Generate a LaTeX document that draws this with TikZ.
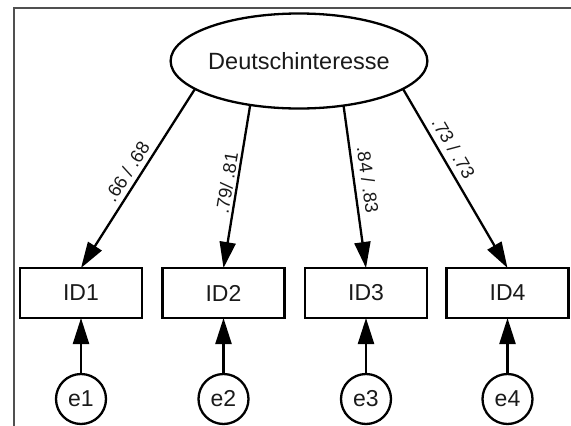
\documentclass[tikz,border=0pt]{standalone}
\usepackage{fontspec}
\setmainfont{Liberation Sans}
\usetikzlibrary{arrows.meta,shapes.geometric}
\definecolor{framegrey}{HTML}{505050}
\definecolor{txt}{HTML}{1A1A1A}
\tikzset{
  latent/.style={draw=black,line width=2.3pt,ellipse,minimum width=244pt,minimum height=95pt,inner sep=0pt,outer sep=0pt,text=txt,font=\fontsize{23.5}{27}\selectfont},
  obsbox/.style={draw=black,line width=2.3pt,rectangle,minimum width=122pt,minimum height=50pt,inner sep=0pt,outer sep=0pt,text=txt,font=\fontsize{23}{26}\selectfont},
  errc/.style={draw=black,line width=2.3pt,circle,minimum size=50pt,inner sep=0pt,outer sep=0pt,text=txt,font=\fontsize{23}{26}\selectfont},
  path arrow/.style={line width=2.3pt,-{Triangle[length=26pt,width=16pt]}},
  coef/.style={sloped,inner sep=1pt,text=txt,font=\fontsize{18.5}{21}\selectfont},
  frameline/.style={draw=framegrey,line width=2pt}
}
\begin{document}
\begin{tikzpicture}[x=1pt,y=-1pt]
\useasboundingbox (0,0) rectangle (571,426);
\coordinate (fA) at (571,7.5);
\coordinate (fB) at (13.5,7.5);
\coordinate (fC) at (13.5,426);
\draw[frameline] (fA) -- (fB) -- (fC);

\node[latent] (L) at (299,61) {Deutschinteresse};

\node[obsbox] (B1) at (81,293) {ID1};
\node[obsbox] (B2) at (223.5,293) {ID2};
\node[obsbox] (B3) at (366,293) {ID3};
\node[obsbox] (B4) at (507.5,293) {ID4};

\node[errc] (E1) at (81,399) {e1};
\node[errc] (E2) at (223.5,399) {e2};
\node[errc] (E3) at (366,399) {e3};
\node[errc] (E4) at (507.5,399) {e4};

\draw[path arrow] (L.195) -- node[coef,above=4pt,pos=0.5] {.66 / .68} (B1.north);
\draw[path arrow] (L.222) -- node[coef,above=1.5pt,pos=0.49] {.79/ .81} (B2.north);
\draw[path arrow] (L.315) -- node[coef,above=5pt,pos=0.47] {.84 / .83} (B3.north);
\draw[path arrow] (L.345) -- node[coef,above=5pt,pos=0.37] {.73 / .73} (B4.north);

\draw[path arrow] (E1.north) -- (B1.south);
\draw[path arrow] (E2.north) -- (B2.south);
\draw[path arrow] (E3.north) -- (B3.south);
\draw[path arrow] (E4.north) -- (B4.south);
\end{tikzpicture}
\end{document}
